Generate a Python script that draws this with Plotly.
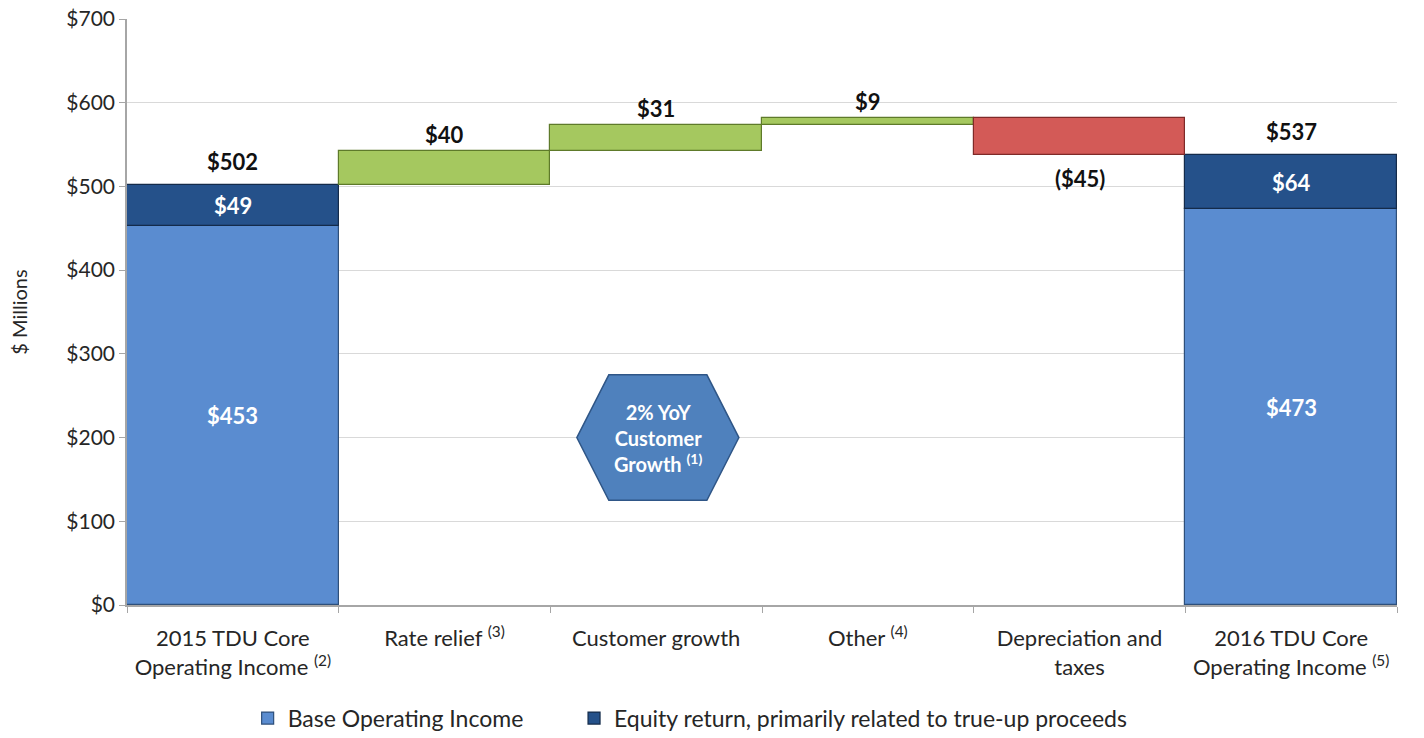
import plotly.graph_objects as go

categories = [
    "2015 TDU Core<br>Operating Income <sup>(2)</sup>",
    "Rate relief <sup>(3)</sup>",
    "Customer growth",
    "Other <sup>(4)</sup>",
    "Depreciation and<br>taxes",
    "2016 TDU Core<br>Operating Income <sup>(5)</sup>",
]
base_income = [453, None, None, None, None, 473]
equity_return = [49, None, None, None, None, 64]
changes = [None, 40, 31, 9, -45, None]

FONT = "Lato, 'Open Sans', sans-serif"

# compute running levels from data
starts, ends = [], []
level = base_income[0] + equity_return[0]
for c in changes:
    if c is None:
        starts.append(None); ends.append(None)
    else:
        starts.append(level); level += c; ends.append(level)

totals = [None if b is None else b + e for b, e in zip(base_income, equity_return)]

fig = go.Figure()
fig.add_trace(go.Bar(
    x=categories, y=base_income, name="Base Operating Income",
    marker=dict(color="#5A8CD0", line=dict(color="#2E4F7A", width=1.2)),
    width=1, showlegend=True, legend="legend",
))
fig.add_trace(go.Bar(
    x=categories, y=equity_return, base=base_income,
    name="Equity return, primarily related to true-up proceeds",
    marker=dict(color="#25518A", line=dict(color="#142B4A", width=1.2)),
    width=1, showlegend=True, legend="legend2",
))
inc_y = [c if (c is not None and c > 0) else None for c in changes]
inc_base = [s if (c is not None and c > 0) else None for s, c in zip(starts, changes)]
dec_y = [-c if (c is not None and c < 0) else None for c in changes]
dec_base = [e if (c is not None and c < 0) else None for e, c in zip(ends, changes)]
fig.add_trace(go.Bar(
    x=categories, y=inc_y, base=inc_base, name="Increase",
    marker=dict(color="#A5C85F", line=dict(color="#5E7A2A", width=1.2)),
    width=1, showlegend=False,
))
fig.add_trace(go.Bar(
    x=categories, y=dec_y, base=dec_base, name="Decrease",
    marker=dict(color="#D35A57", line=dict(color="#7F2A28", width=1.2)),
    width=1, showlegend=False,
))

annotations = []
lab_font = dict(family=FONT, size=22, color="#111111")
white_font = dict(family=FONT, size=22, color="#FFFFFF")
for i, cat in enumerate(categories):
    if base_income[i] is not None:
        annotations.append(dict(x=i, y=totals[i], text=f"<b>${totals[i]}</b>", showarrow=False,
                                yanchor="bottom", yshift=8, font=lab_font))
        annotations.append(dict(x=i, y=base_income[i] + equity_return[i] / 2,
                                text=f"<b>${equity_return[i]}</b>", showarrow=False, font=white_font))
        annotations.append(dict(x=i, y=base_income[i] / 2, text=f"<b>${base_income[i]}</b>",
                                showarrow=False, font=white_font))
    elif changes[i] > 0:
        annotations.append(dict(x=i, y=ends[i], text=f"<b>${changes[i]}</b>", showarrow=False,
                                yanchor="bottom", yshift=1, font=lab_font))
    else:
        annotations.append(dict(x=i, y=ends[i], text=f"<b>(${-changes[i]})</b>", showarrow=False,
                                yanchor="top", yshift=-8, font=lab_font))

# hexagon callout
cx, cy = 0.418, 200
hw, tw, th = 0.0638, 0.0386, 75
hex_path = (f"M {cx-hw},{cy} L {cx-tw},{cy+th} L {cx+tw},{cy+th} L {cx+hw},{cy} "
            f"L {cx+tw},{cy-th} L {cx-tw},{cy-th} Z")
shapes = [dict(type="path", xref="paper", yref="y", path=hex_path,
               fillcolor="#4F81BD", line=dict(color="#2F5687", width=1.5), layer="above")]
annotations.append(dict(xref="paper", yref="y", x=cx, y=cy, showarrow=False,
                        text="<b>2% YoY<br>Customer<br>Growth <sup>(1)</sup></b>",
                        font=dict(family=FONT, size=20, color="#FFFFFF"), align="center"))

legend_font = dict(family=FONT, size=23, color="#262626")
fig.update_layout(
    width=1424, height=738,
    margin=dict(l=127, r=27, t=19, b=133, autoexpand=False),
    paper_bgcolor="white", plot_bgcolor="white",
    barmode="overlay", bargap=0,
    font=dict(family=FONT, size=22, color="#262626"),
    shapes=shapes, annotations=annotations,
    legend=dict(orientation="h", x=0.095, xanchor="left", y=-0.193, yanchor="middle",
                font=legend_font, bgcolor="rgba(0,0,0,0)"),
    legend2=dict(orientation="h", x=0.352, xanchor="left", y=-0.193, yanchor="middle",
                 font=legend_font, bgcolor="rgba(0,0,0,0)"),
    xaxis=dict(type="category", range=[-0.5, 5.5], showgrid=False, automargin=False,
               showline=True, linecolor="#A6A6A6", linewidth=1.5,
               ticks="outside", tickson="boundaries", ticklen=6, tickcolor="#A6A6A6",
               ticklabelstandoff=13,
               tickfont=dict(family=FONT, size=22, color="#262626")),
    yaxis=dict(range=[0, 700], dtick=100, tickprefix="$", showgrid=True, automargin=False,
               gridcolor="#D9D9D9", gridwidth=1, showline=True, linecolor="#A6A6A6",
               linewidth=1.5, ticks="outside", ticklen=6, tickcolor="#A6A6A6",
               tickfont=dict(family=FONT, size=21, color="#262626"),
               title=dict(text="$ Millions", font=dict(family=FONT, size=20, color="#262626"),
                          standoff=33),
               zeroline=False),
)

fig.write_html("out.html", config={"displayModeBar": False},
               post_script="document.body.style.margin='0';document.body.style.overflow='hidden';")
